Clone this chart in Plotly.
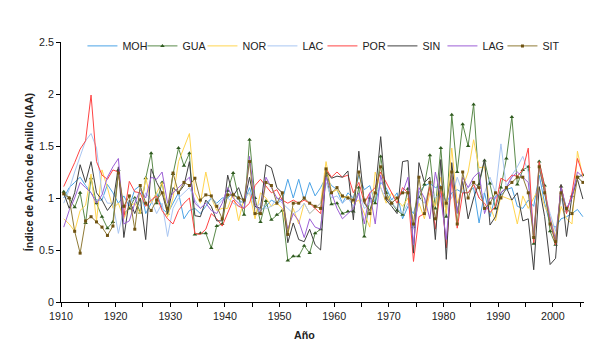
import plotly.graph_objects as go

years = list(range(1910, 2006))

MOH = [1.00, 1.10, 1.15, 1.20, 1.12, 1.05, 0.98, 0.98, 1.13, 1.05,
       0.95, 1.02, 0.92, 1.08, 1.12, 0.85, 0.95, 1.05, 0.90, 0.85,
       0.95, 1.05, 0.80, 0.88, 0.90, 0.85, 0.92, 1.00, 0.95, 1.00,
       1.00, 1.05, 0.98, 0.95, 1.10, 0.92, 0.88, 0.92, 0.98, 0.95,
       0.98, 1.18, 1.00, 1.18, 0.98, 1.15, 1.02, 1.10, 1.20, 1.12,
       1.08, 0.95, 1.05, 1.00, 1.22, 1.08, 1.12, 0.95, 1.15, 1.10,
       0.98, 1.05, 0.80, 0.92, 0.85, 1.05, 1.12, 1.14, 1.10, 1.12,
       0.95, 1.05, 1.08, 1.05, 1.05, 1.10, 0.76, 1.05, 0.82, 1.02,
       1.03, 1.08, 1.10, 0.92, 0.90, 0.98, 0.92, 1.22, 0.95, 0.75,
       0.72, 0.80, 0.82, 0.85, 0.89, 0.82]

GUA = [1.06, 1.00, 0.91, 1.05, 0.76, 1.19, 0.95, 0.82, 0.71, 0.77,
       1.27, 0.85, 0.90, 1.00, 0.86, 1.19, 1.43, 0.95, 1.15, 0.85,
       1.23, 1.48, 1.31, 1.43, 0.65, 0.66, 0.66, 0.52, 0.73, 0.75,
       1.07, 1.24, 1.00, 0.84, 1.56, 1.00, 0.77, 0.97, 0.79, 0.84,
       0.88, 0.40, 0.44, 0.44, 0.54, 0.47, 0.66, 0.70, 1.24, 0.94,
       0.95, 0.85, 0.87, 0.87, 1.10, 0.63, 1.00, 0.95, 1.40, 1.05,
       0.95, 0.88, 0.84, 1.09, 0.72, 1.00, 1.13, 1.41, 0.90, 1.48,
       0.82, 1.80, 1.25, 1.71, 1.50, 1.90, 1.13, 1.36, 1.14, 0.90,
       1.10, 1.38, 1.78, 1.13, 1.27, 1.30, 0.56, 1.35, 1.12, 0.68,
       0.55, 1.11, 0.88, 1.02, 1.20, 1.22]

NOR = [0.80, 0.75, 0.68, 0.88, 0.93, 1.23, 0.78, 1.27, 1.10, 0.90,
       0.95, 0.80, 0.92, 0.95, 0.85, 1.20, 0.95, 1.05, 1.15, 0.82,
       1.00, 1.35, 1.48, 1.62, 1.05, 0.95, 1.25, 1.00, 0.88, 0.90,
       0.90, 1.05, 0.78, 1.00, 1.05, 0.80, 1.05, 1.00, 0.92, 0.95,
       0.90, 0.65, 0.90, 0.75, 0.95, 0.85, 0.90, 0.95, 1.35, 1.05,
       1.08, 1.00, 1.02, 0.95, 0.98, 0.85, 0.72, 1.25, 1.10, 0.95,
       1.05, 0.98, 0.92, 1.00, 0.75, 0.95, 0.80, 1.05, 0.92, 1.20,
       0.85, 1.48, 0.95, 1.10, 1.25, 1.56, 1.29, 1.30, 0.92, 0.78,
       1.02, 1.00, 0.98, 0.75, 1.02, 0.90, 1.00, 1.10, 0.92, 0.82,
       0.62, 0.92, 0.80, 0.75, 1.45, 1.20]

LAC = [0.95, 1.08, 1.25, 1.40, 1.55, 1.62, 1.48, 1.05, 0.95, 0.95,
       0.66, 0.90, 0.95, 1.00, 0.92, 1.05, 0.98, 0.85, 0.95, 0.63,
       0.90, 1.00, 1.05, 1.10, 0.98, 0.90, 0.95, 1.00, 0.92, 0.98,
       1.00, 0.95, 0.92, 1.00, 1.05, 0.90, 0.95, 0.90, 0.92, 1.00,
       0.95, 0.90, 0.85, 0.88, 0.95, 0.85, 0.90, 0.95, 1.15, 1.00,
       1.02, 0.95, 1.00, 0.92, 1.05, 0.90, 0.95, 1.05, 1.10, 0.98,
       0.95, 0.90, 0.85, 0.95, 0.70, 1.00, 0.95, 1.10, 1.00, 1.05,
       0.95, 1.00, 1.20, 1.05, 1.10, 1.15, 1.00, 1.05, 1.20, 1.05,
       1.52, 1.10, 1.22, 1.30, 1.40, 1.25, 0.60, 1.30, 1.05, 0.85,
       0.68, 1.00, 0.85, 1.05, 1.20, 1.15]

POR = [1.11, 1.22, 1.34, 1.47, 1.55, 1.99, 1.35, 1.22, 1.18, 1.27,
       1.25, 0.82, 1.16, 1.06, 1.05, 0.92, 0.98, 1.02, 0.88, 0.80,
       0.75, 0.88, 0.95, 1.00, 0.66, 0.65, 0.70, 0.85, 0.80, 0.73,
       0.86, 0.98, 0.92, 0.90, 0.95, 1.12, 1.18, 1.12, 1.05, 1.08,
       0.98, 0.95, 0.98, 0.95, 0.98, 0.95, 0.90, 0.85, 1.28, 1.20,
       1.25, 1.20, 1.22, 1.05, 1.15, 0.95, 1.05, 1.10, 1.25, 1.15,
       1.05, 0.95, 1.10, 1.05, 0.39, 0.82, 0.85, 1.11, 0.70, 1.11,
       0.52, 1.18, 0.71, 1.05, 1.05, 1.13, 1.00, 0.95, 0.86, 0.92,
       1.19, 1.16, 1.22, 1.21, 1.27, 1.48, 0.57, 1.35, 1.10, 0.78,
       0.55, 1.12, 0.85, 1.05, 1.38, 1.22]

SIN = [1.05, 0.90, 1.05, 1.32, 1.15, 1.35, 1.05, 0.98, 0.88, 0.95,
       1.30, 0.62, 0.98, 0.85, 1.00, 0.60, 1.28, 1.15, 1.05, 0.85,
       1.10, 1.05, 1.12, 1.35, 0.83, 0.82, 0.98, 0.92, 0.78, 0.78,
       1.22, 1.02, 1.10, 0.95, 1.20, 0.92, 0.90, 1.32, 1.29, 1.10,
       1.05, 0.57, 0.76, 0.60, 0.58, 0.70, 0.55, 0.50, 1.26, 1.19,
       1.21, 1.20, 1.26, 0.79, 1.45, 0.95, 0.88, 1.05, 1.59, 0.98,
       0.92, 0.85, 1.35, 1.36, 0.47, 1.34, 1.15, 1.20, 0.60, 1.37,
       0.41, 1.34, 0.86, 1.16, 0.80, 1.00, 1.15, 1.37, 0.74, 0.82,
       1.05, 1.10, 0.98, 1.05, 0.78, 0.80, 0.31, 1.11, 0.82, 0.36,
       0.42, 1.13, 0.63, 1.02, 1.18, 0.99]

LAG = [0.72, 0.88, 1.00, 1.15, 1.10, 1.05, 0.95, 1.03, 1.20, 1.30,
       1.38, 0.75, 0.78, 0.95, 1.08, 1.00, 1.20, 1.18, 1.25, 0.95,
       1.05, 1.10, 1.15, 1.20, 0.95, 0.90, 0.95, 0.88, 0.85, 0.95,
       1.10, 1.00, 0.95, 0.90, 1.40, 0.95, 0.85, 1.20, 1.10, 1.00,
       0.98, 0.70, 0.85, 0.78, 0.62, 0.80, 0.72, 0.70, 1.20, 1.05,
       0.90, 0.80, 0.85, 0.90, 1.05, 0.75, 1.05, 0.75, 1.22, 1.00,
       0.95, 1.00, 1.05, 1.20, 0.55, 1.10, 1.00, 0.80, 1.25, 1.00,
       0.60, 1.25, 0.85, 1.20, 1.10, 1.20, 1.25, 0.85, 1.00, 1.00,
       1.05, 1.10, 1.20, 1.25, 1.20, 1.15, 0.65, 1.30, 1.05, 0.80,
       0.60, 1.10, 0.90, 1.00, 1.25, 1.20]

SIT = [1.04, 1.00, 0.68, 0.47, 0.78, 0.82, 0.77, 0.72, 0.64, 0.73,
       1.24, 0.92, 1.02, 0.70, 1.12, 0.95, 0.88, 0.98, 1.05, 0.90,
       1.24, 1.05, 1.15, 1.12, 1.19, 0.98, 1.03, 1.02, 0.92, 0.80,
       1.03, 1.03, 1.00, 0.98, 1.35, 0.85, 0.85, 1.15, 1.12, 0.95,
       1.05, 0.65, 0.95, 0.95, 1.00, 0.95, 0.92, 0.90, 1.28, 1.05,
       1.10, 1.02, 1.00, 0.98, 1.25, 0.98, 0.85, 1.05, 1.30, 1.00,
       0.95, 1.00, 1.05, 1.05, 0.75, 1.20, 0.85, 1.15, 0.80, 1.10,
       0.95, 1.25, 0.75, 1.25, 1.00, 1.15, 1.10, 0.90, 0.95, 1.05,
       1.00, 1.10, 1.15, 1.20, 1.20, 1.05, 0.62, 1.30, 1.05, 0.75,
       0.58, 1.05, 0.90, 0.85, 1.20, 1.15]

y_ticks = [0, 0.5, 1, 1.5, 2, 2.5]
y_labels = ["0", "0.5", "1", "1.5", "2", "2.5"]
x_label_years = list(range(1910, 2006, 5))

FONT = "Liberation Sans, Arial, sans-serif"

series = [
    ("MOH", MOH, "#4aa3e6", None, None, 0),
    ("GUA", GUA, "#5a8a4a", "triangle-up", "#2f5a1f", 4),
    ("NOR", NOR, "#ffd54f", None, None, 0),
    ("LAC", LAC, "#a9c6f2", None, None, 0),
    ("POR", POR, "#ff4444", None, None, 0),
    ("SIN", SIN, "#404040", None, None, 0),
    ("LAG", LAG, "#9c5fd6", None, None, 0),
    ("SIT", SIT, "#8f7a36", "square", "#6e5212", 3),
]

fig = go.Figure()
for name, vals, color, sym, mcol, msize in series:
    if sym:
        fig.add_trace(go.Scatter(
            x=years, y=vals, name=name, mode="lines+markers",
            line=dict(color=color, width=1),
            marker=dict(symbol=sym, size=msize, color=mcol),
        ))
    else:
        fig.add_trace(go.Scatter(
            x=years, y=vals, name=name, mode="lines",
            line=dict(color=color, width=1),
        ))

tickvals = [y - 0.5 for y in x_label_years]
ticktext = [str(y) if y % 10 == 0 else "" for y in x_label_years]

fig.update_layout(
    width=610, height=358,
    margin=dict(l=53, r=34, t=34, b=64, autoexpand=False),
    paper_bgcolor="white", plot_bgcolor="white",
    font=dict(family=FONT, size=10.7, color="#222"),
    showlegend=True,
    legend=dict(orientation="h", x=0.041, y=0.985, xanchor="left", yanchor="middle",
                font=dict(size=10.7, color="#222"), bgcolor="rgba(0,0,0,0)",
                itemwidth=30, tracegroupgap=0, entrywidth=15, entrywidthmode="pixels"),
    xaxis=dict(range=[1909.5, 2005.2], tickmode="array", tickvals=tickvals, ticktext=ticktext,
               ticks="outside", ticklen=4, tickcolor="#000", showline=True, linecolor="#000",
               linewidth=1, showgrid=False, zeroline=False, automargin=False,
               tickfont=dict(size=10.7, color="#222")),
    yaxis=dict(range=[0, 2.5], tickmode="array", tickvals=y_ticks, ticktext=y_labels,
               ticks="outside", ticklen=4, tickcolor="#000", showline=True, linecolor="#000",
               linewidth=1, showgrid=False, zeroline=False, automargin=False,
               tickfont=dict(size=10.7, color="#222"),
               title=dict(text="<b>Índice de Ancho de Anillo (IAA)</b>",
                          font=dict(size=10.7, color="#222"), standoff=3)),
    annotations=[dict(text="<b>Año</b>", x=0.4665, y=-(335 - 302) / 260.0,
                      xref="paper", yref="paper", yanchor="middle",
                      showarrow=False, font=dict(size=10.7, color="#222"))],
)

fig.write_html("out.html")
